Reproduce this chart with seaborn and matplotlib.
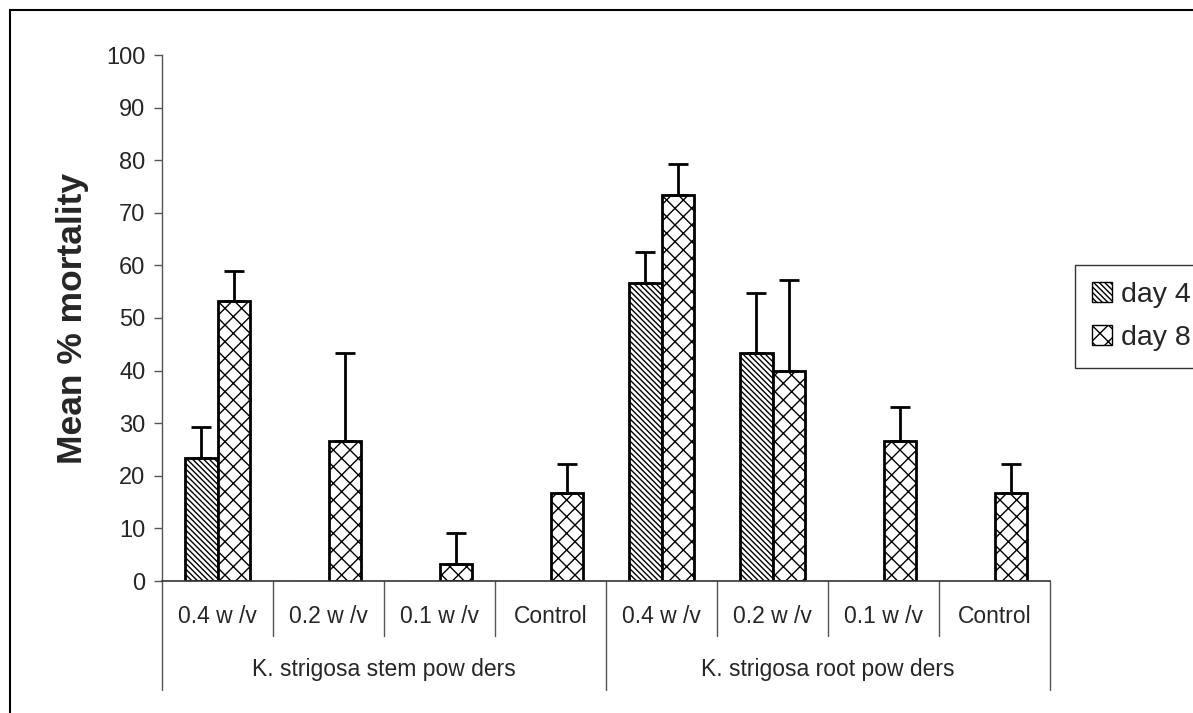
import numpy as np
import pandas as pd
import seaborn as sns
from matplotlib import pyplot as plt
from matplotlib.patches import Patch, Rectangle

# data
doses = ["0.4 w /v", "0.2 w /v", "0.1 w /v", "Control"]
groups = ["K. strigosa stem pow ders", "K. strigosa root pow ders"]
days = ["day 4", "day 8"]
day4_mean = [23.3, 0, 0, 0, 56.7, 43.3, 0, 0]
day4_err = [6.0, 0, 0, 0, 5.8, 11.5, 0, 0]
day8_mean = [53.3, 26.7, 3.3, 16.7, 73.3, 40.0, 26.7, 16.7]
day8_err = [5.7, 16.7, 5.8, 5.6, 6.0, 17.3, 6.3, 5.6]
yticks = list(range(0, 101, 10))

sns.set_style("white")
plt.rcParams['font.family'] = ['Liberation Sans', 'DejaVu Sans']
plt.rcParams['hatch.linewidth'] = 1.0

slots = [f"{g.split()[2]}|{d}" for g in groups for d in doses]
df = pd.DataFrame({
    "slot": slots * 2,
    "day": [days[0]] * len(slots) + [days[1]] * len(slots),
    "mean": day4_mean + day8_mean,
    "err": day4_err + day8_err,
})

fig = plt.figure(figsize=(11.93, 7.13), dpi=100)
ax = fig.add_axes([162 / 1193, 1 - 581 / 713, 888 / 1193, 526 / 713])

sns.barplot(data=df, x="slot", y="mean", hue="day", order=slots, hue_order=days,
            palette=["white", "white"], edgecolor="black", linewidth=2,
            width=0.58, errorbar=None, legend=False, ax=ax)

hatches = {days[0]: "\\\\\\\\\\\\", days[1]: "xx"}
n = len(slots)
for i, bar in enumerate(ax.patches[:2 * n]):
    day = days[i // n]
    bar.set_hatch(hatches[day])
    if bar.get_height() == 0:
        bar.set_hatch(None)
        bar.set_edgecolor("#888888")
        bar.set_linewidth(1)
    err = df["err"].iloc[i]
    if err > 0:
        xc = bar.get_x() + bar.get_width() / 2
        ax.errorbar(xc, bar.get_height(), yerr=[[0], [err]], fmt="none",
                    ecolor="black", elinewidth=2, capsize=7, capthick=2, zorder=1)

ax.set_xlim(-0.5, n - 0.5)
ax.set_ylim(0, 100)
ax.set_yticks(yticks)
ax.tick_params(axis="y", labelsize=17, length=6, width=1, color="#555555",
               left=True, pad=6)
ax.set_xticks([])
ax.set_xlabel("")
ax.set_ylabel("Mean % mortality", fontsize=25.5, fontweight="bold", labelpad=12)
sns.despine(ax=ax)
ax.spines["left"].set_color("#555555")
ax.spines["bottom"].set_color("#333333")
ax.spines["left"].set_linewidth(1)
ax.spines["bottom"].set_linewidth(1.2)

# two-level category axis
trans = ax.get_xaxis_transform()
for k in range(n + 1):
    x = k - 0.5
    low = -0.207 if k % 4 == 0 else -0.105
    ax.plot([x, x], [0, low], color="#555555", lw=1, transform=trans, clip_on=False)
for k in range(n):
    ax.text(k, -0.068, doses[k % 4], transform=trans, ha="center", va="center",
            fontsize=16.5)
for g, name in enumerate(groups):
    ax.text(g * 4 + 1.5, -0.168, name, transform=trans, ha="center", va="center",
            fontsize=16.5)

handles = [Patch(facecolor="white", edgecolor="black", hatch=hatches[d], label=d)
           for d in days]
fig.legend(handles=handles, loc="upper left",
           bbox_to_anchor=(1075 / 1193, 1 - 265 / 713), fontsize=20.5,
           frameon=True, fancybox=False, edgecolor="black", handlelength=0.7,
           handleheight=0.7, handletextpad=0.3, borderpad=0.6, labelspacing=0.6,
           borderaxespad=0)

# outer chart border (clipped at the right and bottom edges)
fig.add_artist(Rectangle((10 / 1193, -0.1), 2, 1 - 10 / 713 + 0.1, fill=False,
                         lw=1.5, edgecolor="black", transform=fig.transFigure))

plt.savefig("out.png", dpi=100)
